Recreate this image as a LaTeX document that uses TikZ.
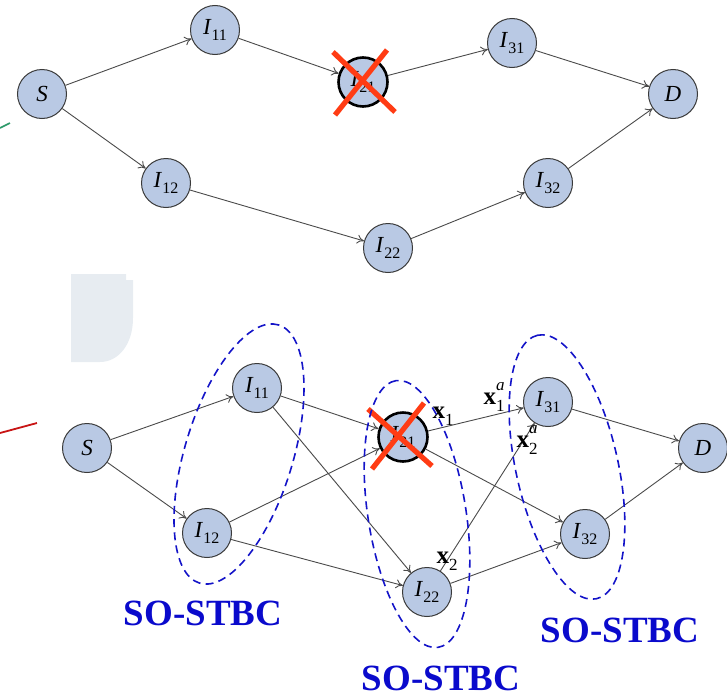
\documentclass[tikz,border=0pt]{standalone}
\usepackage{fontspec}
\setmainfont{Liberation Serif}
\usetikzlibrary{shapes.geometric,arrows.meta}

\definecolor{relayfill}{HTML}{B9C9E4}
\definecolor{relayline}{HTML}{3A3A3A}
\definecolor{edgegray}{HTML}{4A4A4A}
\definecolor{groupblue}{HTML}{1414C8}
\definecolor{labelblue}{HTML}{0A0ACC}
\definecolor{crossred}{HTML}{FF3C14}
\definecolor{panelgray}{HTML}{E7ECF1}

% relay name: italic letter with upright index
\newcommand{\relay}[2]{\textit{#1}\raisebox{-0.5ex}{\fontsize{8}{8}\selectfont #2}}
% bold symbol with index (and optional superscript)
\newcommand{\sym}[2]{\textbf{x}\rlap{\raisebox{1.15ex}{\fontsize{8.5}{9}\selectfont\textit{#2}}}\raisebox{-0.6ex}{\fontsize{8.5}{9}\selectfont #1}}

\begin{document}
\begin{tikzpicture}[x=0.5pt, y=-0.5pt,
    relay/.style={draw=relayline, circle, fill=relayfill, minimum size=24.5pt, inner sep=0pt, line width=0.5pt, font=\fontsize{11.5}{12}\selectfont},
    dead/.style={relay, draw=black, line width=1.3pt},
    arrow/.style={draw=edgegray, line width=0.45pt, -{To[length=3.5pt,width=4.5pt]}},
    cross/.style={draw=crossred, line width=2.6pt},
    group/.style={draw=groupblue, dash pattern=on 4pt off 2.6pt, line width=0.8pt, ellipse, inner sep=0pt, minimum width=135pt},
    grouplabel/.style={text=labelblue, font=\bfseries\fontsize{18.5}{20}\selectfont},
    sig/.style={font=\fontsize{12.5}{13}\selectfont, inner sep=0pt}
]
\useasboundingbox (0,0) rectangle (727,696);

% stray marks at the edge
\draw[draw={rgb,255:red,46;green,154;blue,106}, line width=0.8pt] (0,128) -- (10,123);
\draw[draw={rgb,255:red,200;green,20;blue,20}, line width=0.9pt] (0,433) -- (37,423);
\fill[panelgray] (71,274) -- (126,274) -- (126,280) -- (133,280) -- (133,318)
    .. controls (133,345) and (118,362) .. (100,362) -- (71,362) -- cycle;

% Route with failed relay
\node[relay] (tS) at (42,94) {\textit{S}};
\node[relay] (t11) at (215,30) {\relay{I}{11}};
\node[relay] (t12) at (166,183) {\relay{I}{12}};
\node[dead] (t21) at (363,82) {\relay{I}{21}};
\node[relay] (t22) at (388,248) {\relay{I}{22}};
\node[relay] (t31) at (512,43) {\relay{I}{31}};
\node[relay] (t32) at (548,183) {\relay{I}{32}};
\node[relay] (tD) at (673,94) {\textit{D}};

\draw [arrow] (tS) -- (t11);
\draw [arrow] (tS) -- (t12);
\draw [arrow] (t11) -- (t21);
\draw [arrow] (t12) -- (t22);
\draw [arrow] (t21) -- (t31);
\draw [arrow] (t22) -- (t32);
\draw [arrow] (t31) -- (tD);
\draw [arrow] (t32) -- (tD);

\draw [cross] ([shift={(-30,-30)}]t21.center) -- ([shift={(32,30)}]t21.center);
\draw [cross] ([shift={(-28,33)}]t21.center) -- ([shift={(24,-32)}]t21.center);

% Cooperative route
\node[relay] (bS) at (87,448) {\textit{S}};
\node[relay] (b11) at (257,388) {\relay{I}{11}};
\node[relay] (b12) at (207,533) {\relay{I}{12}};
\node[dead] (b21) at (403,437) {\relay{I}{21}};
\node[relay] (b22) at (427,592) {\relay{I}{22}};
\node[relay] (b31) at (548,402) {\relay{I}{31}};
\node[relay] (b32) at (585,534) {\relay{I}{32}};
\node[relay] (bD) at (703,448) {\textit{D}};

\draw [arrow] (bS) -- (b11);
\draw [arrow] (bS) -- (b12);
\draw [arrow] (b11) -- (b21);
\draw [arrow] (b11) -- (b22);
\draw [arrow] (b12) -- (b21);
\draw [arrow] (b12) -- (b22);
\draw [arrow] (b21) -- (b31);
\draw [arrow] (b21) -- (b32);
\draw [arrow] (b22) -- (b31);
\draw [arrow] (b22) -- (b32);
\draw [arrow] (b31) -- (bD);
\draw [arrow] (b32) -- (bD);

\node[sig] (s1) at (443,415) {\sym{1}{}};
\node[sig] (s1a) at (494,397) {\sym{1}{a}};
\node[sig] (s2a) at (527,440) {\sym{2}{a}};
\node[sig] (s2) at (447,560) {\sym{2}{}};

\draw [cross] ([shift={(-35,-28)}]b21.center) -- ([shift={(29,29)}]b21.center);
\draw [cross] ([shift={(-31,32)}]b21.center) -- ([shift={(21,-34)}]b21.center);

% relay groups
\node[group, minimum height=54pt, rotate=73] (g1) at (239,454) {};
\node[group, minimum height=49pt, rotate=99] (g2) at (417,514) {};
\node[group, minimum height=51pt, rotate=102.6] (g3) at (567,467) {};

\node[grouplabel] (l1) at (203,613) {SO-STBC};
\node[grouplabel] (l2) at (441,678) {SO-STBC};
\node[grouplabel] (l3) at (620,630) {SO-STBC};

\end{tikzpicture}
\end{document}
